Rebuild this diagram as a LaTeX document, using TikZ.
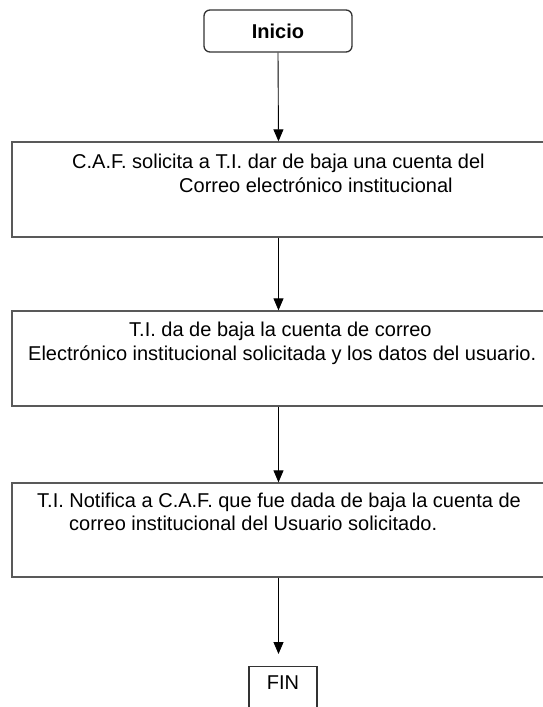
\documentclass[tikz,border=0pt]{standalone}
\usepackage{fontspec}
\setmainfont{Liberation Sans}
\usetikzlibrary{arrows.meta}
\begin{document}
\begin{tikzpicture}[x=1pt, y=-1pt,
  every node/.style={font=\fontsize{20}{23}\selectfont},
  caja/.style={draw=black!65, line width=1.3pt, minimum width=533pt, minimum height=95pt, inner sep=0pt},
  linea/.style={anchor=base west, inner sep=0pt},
  flecha/.style={-{Triangle[length=12pt, width=10pt]}, line width=0.9pt}
]
\useasboundingbox (0,0) rectangle (542,707);
\node[draw=black!80, line width=1.3pt, rounded corners=6pt, minimum width=148pt, minimum height=42pt, inner sep=0pt, font=\fontsize{20}{23}\selectfont\bfseries] (inicio) at (278,31) {Inicio};
\node[caja] (b1) at (278.5,189.5) {};
\node[caja] (b2) at (278.5,358.5) {};
\node[caja, minimum height=94pt] (b3) at (278.5,530) {};
\node[draw=black!80, line width=1.2pt, anchor=north, minimum width=68pt, inner sep=0pt, text height=23pt, text depth=30pt] (fin) at (283,666) {FIN};
% textos
\node[linea] (t1a) at (72,168) {C.A.F. solicita a T.I. dar de baja una cuenta del};
\node[linea] (t1b) at (179,192) {Correo electrónico institucional};
\node[linea] (t2a) at (129,336) {T.I. da de baja la cuenta de correo};
\node[linea] (t2b) at (28,360) {Electrónico institucional solicitada y los datos del usuario.};
\node[linea] (t3a) at (37,507) {T.I. Notifica a C.A.F. que fue dada de baja la cuenta de};
\node[linea] (t3b) at (69,530) {correo institucional del Usuario solicitado.};
% flechas
\draw[flecha] (inicio.south) -- (b1.north);
\draw[flecha] (b1.south) -- (b2.north);
\draw[flecha] (b2.south) -- (b3.north);
\draw[flecha, shorten >=12pt] (b3.south) -- (b3.south |- fin.north);
\end{tikzpicture}
\end{document}
